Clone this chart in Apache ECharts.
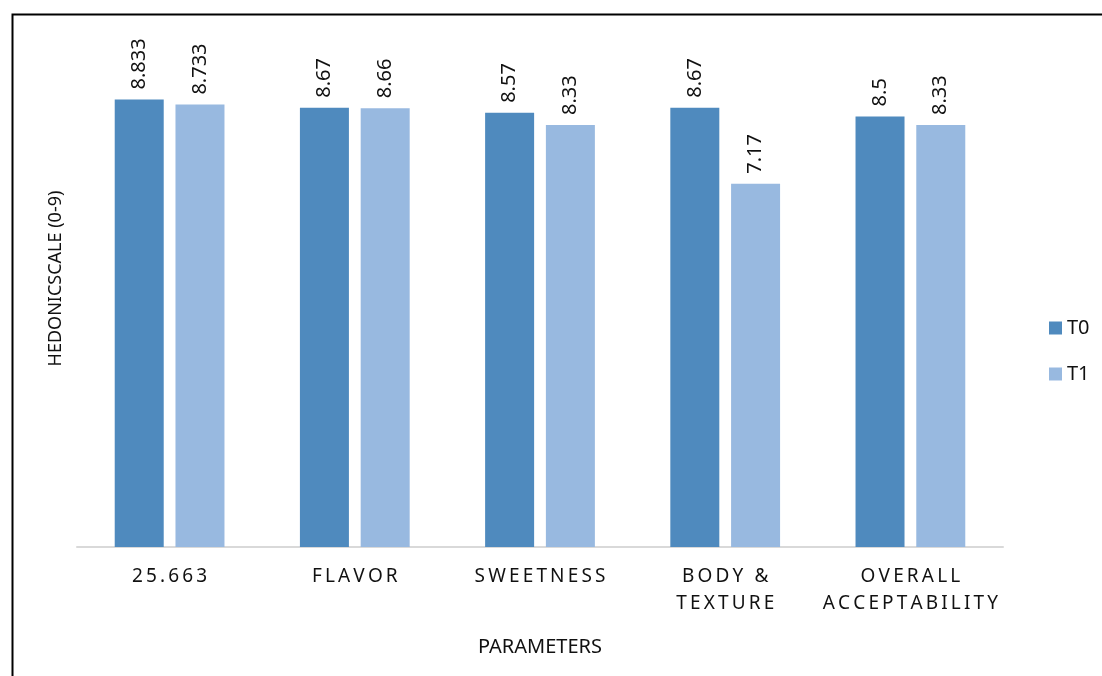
<!DOCTYPE html>
<html>
<head>
<meta charset="utf-8">
<script src="https://cdn.jsdelivr.net/npm/echarts@6/dist/echarts.min.js"></script>
<style>
  html, body { margin: 0; padding: 0; background: #fff; }
  #content { width: 1102px; height: 676px; }
</style>
</head>
<body>
<div id="content"></div>
<script>
// data
var categories = ["25.663", "FLAVOR", "SWEETNESS", "BODY &\nTEXTURE", "OVERALL\nACCEPTABILITY"];
var seriesNames = ["T0", "T1"];
var t0Values = [8.833, 8.67, 8.57, 8.67, 8.5];
var t1Values = [8.733, 8.66, 8.33, 7.17, 8.33];

var darkBlue = "#4F8ABE";
var lightBlue = "#98B9E0";
var font = "Noto Sans";

// spread the letters a little, like the original category labels
function spaced(text) {
    return text.split("\n").map(function(line) {
        return line.split("").join("\u2009");
    }).join("\n");
}

var myChart = echarts.init(document.getElementById("content"));

function barLabel() {
    return {
        show: true,
        position: "top",
        rotate: 90,
        align: "left",
        verticalAlign: "middle",
        distance: 10,
        color: "#111",
        fontFamily: font,
        fontSize: 20
    };
}

myChart.setOption({
    animation: false,
    textStyle: { fontFamily: font },
    // black frame, only top and left edges fall inside the picture
    graphic: [{
        type: "rect",
        left: 10,
        top: 12,
        shape: { width: 1200, height: 800 },
        style: { fill: "none", stroke: "#000", lineWidth: 2 },
        silent: true
    }],
    legend: {
        orient: "vertical",
        left: 1044,
        top: 313,
        itemWidth: 13,
        itemHeight: 13,
        itemGap: 26,
        icon: "rect",
        textStyle: { fontFamily: font, fontSize: 20, color: "#111" },
        data: seriesNames
    },
    grid: {
        left: 77,
        right: 99,
        top: 10,
        bottom: 129
    },
    xAxis: {
        type: "category",
        data: categories,
        name: "PARAMETERS",
        nameLocation: "middle",
        nameGap: 90,
        nameTextStyle: { fontFamily: font, fontSize: 20, color: "#111" },
        axisLine: { lineStyle: { color: "#D9D9D9", width: 2 } },
        axisTick: { show: false },
        axisLabel: {
            interval: 0,
            margin: 16,
            fontFamily: font,
            fontSize: 19,
            lineHeight: 27,
            color: "#111",
            formatter: spaced
        }
    },
    yAxis: {
        type: "value",
        min: 0,
        max: 10.6,
        name: "HEDONICSCALE (0-9)",
        nameLocation: "middle",
        nameGap: 12,
        nameTextStyle: { fontFamily: font, fontSize: 18, color: "#111" },
        axisLine: { show: false },
        axisTick: { show: false },
        axisLabel: { show: false },
        splitLine: { show: false }
    },
    series: [{
        name: seriesNames[0],
        type: "bar",
        data: t0Values,
        barWidth: 49,
        barGap: "24%",
        itemStyle: { color: darkBlue },
        label: barLabel()
    }, {
        name: seriesNames[1],
        type: "bar",
        data: t1Values,
        barWidth: 49,
        barGap: "24%",
        itemStyle: { color: lightBlue },
        label: barLabel()
    }]
});
</script>
</body>
</html>
